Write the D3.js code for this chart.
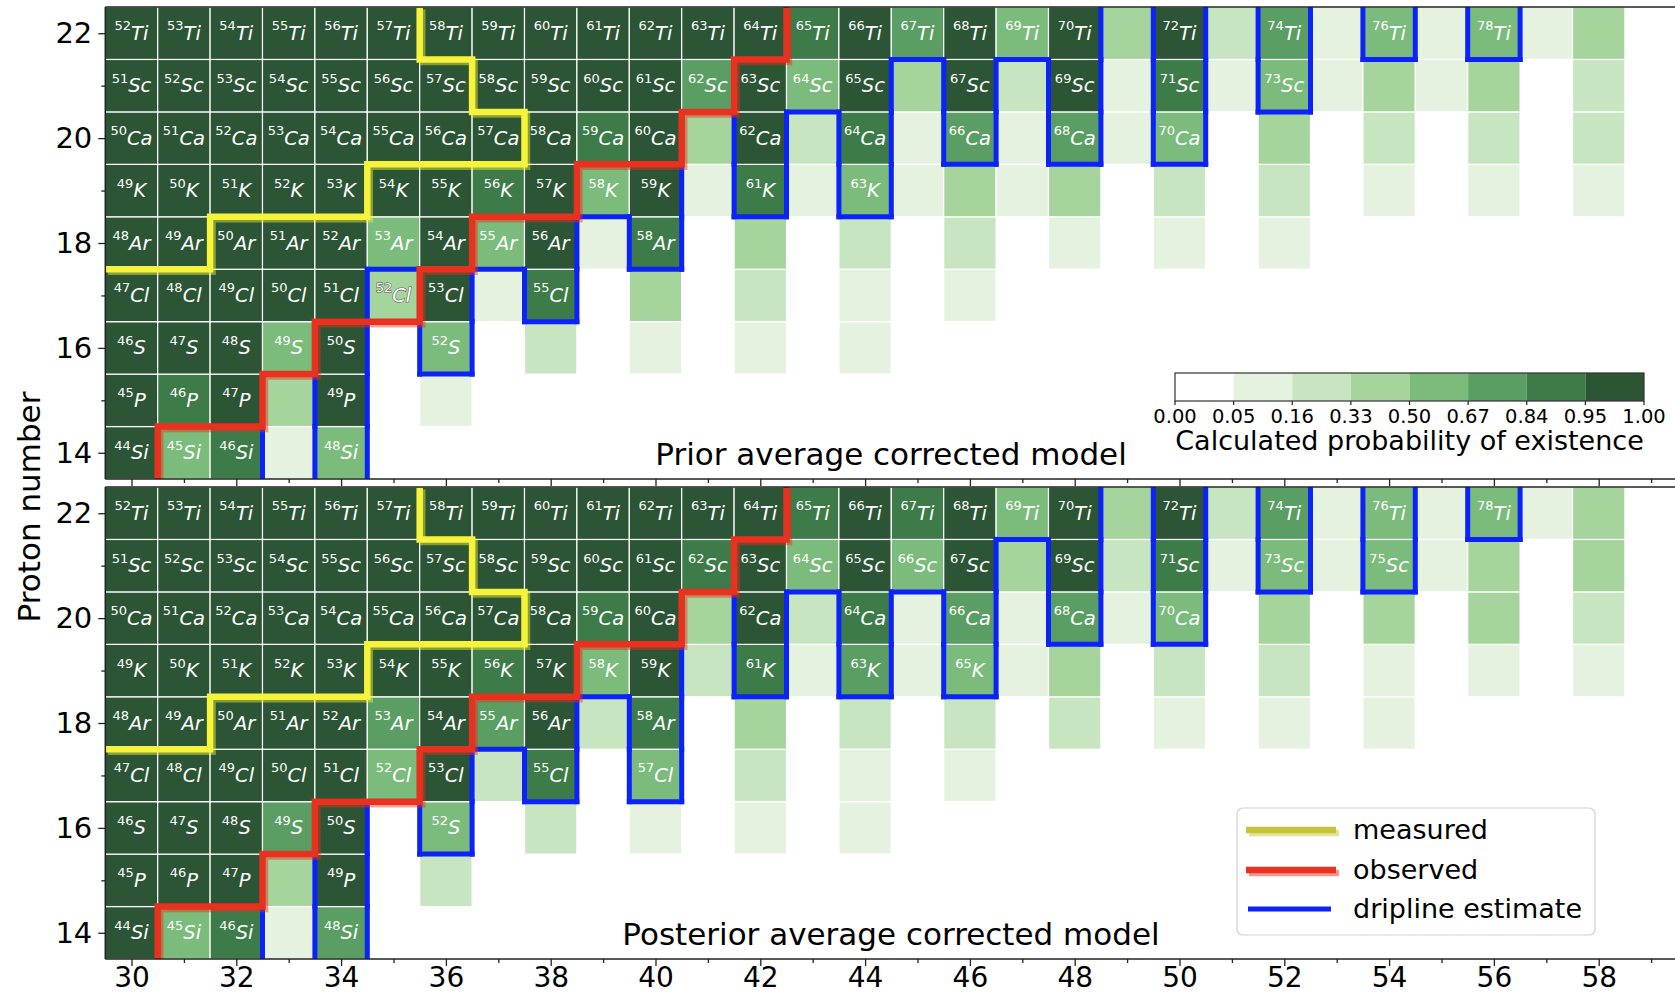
<!DOCTYPE html>
<html>
<head>
<meta charset="utf-8">
<script src="https://cdn.jsdelivr.net/npm/d3@7"></script>
<style>
  body { margin: 0; background: #ffffff; }
  text { font-family: "DejaVu Sans", "Liberation Sans", sans-serif; }
</style>
</head>
<body>
<svg id="chart" width="1675" height="994"></svg>
<script>
// ---------------- DATA ----------------
const neutronNumbers = [30,31,32,33,34,35,36,37,38,39,40,41,42,43,44,45,46,47,48,49,50,51,52,53,54,55,56,57,58];
const protonNumbers = [14,15,16,17,18,19,20,21,22];
const elementSymbols = ["Si","P","S","Cl","Ar","K","Ca","Sc","Ti"];
const xMajorTicks = [30,32,34,36,38,40,42,44,46,48,50,52,54,56,58];
const xMinorTicks = [31,33,35,37,39,41,43,45,47,49,51,53,55,57,59];
const yMajorTicks = [14,16,18,20,22];
const yMinorTicks = [15,17,19,21];
const binEdges = [0.00,0.05,0.16,0.33,0.50,0.67,0.84,0.95,1.00];
const binTickLabels = ["0.00","0.05","0.16","0.33","0.50","0.67","0.84","0.95","1.00"];
const binColors = ["#ffffff","#e5f2e0","#c8e5c2","#a6d49d","#7bbb7b","#5a9e64","#3d7c49","#2b5535"];
const panelTitles = ["Prior average corrected model","Posterior average corrected model"];
const colorbarLabel = "Calculated probability of existence";
const legendLabels = ["measured","observed","dripline estimate"];
// last measured / observed neutron number for each proton number (Z = 14..22)
const measuredLimit = [null,null,null,null,31,34,37,36,35];
const observedLimit = [30,32,33,35,36,38,40,41,42];
const driplineThreshold = 0.5;

// probability of existence, rows Z = 14..22, columns N = 30..58 (null = not computed)
const _ = null;
const priorProbability = [
  [.99,.58,.90,.10,.58,_,_,_,_,_,_,_,_,_,_,_,_,_,_,_,_,_,_,_,_,_,_,_,_],
  [.99,.90,.99,.42,.99,_,.10,_,_,_,_,_,_,_,_,_,_,_,_,_,_,_,_,_,_,_,_,_,_],
  [.99,.99,.99,.58,.99,_,.58,_,.25,_,.10,_,.10,_,.10,_,_,_,_,_,_,_,_,_,_,_,_,_,_],
  [.99,.99,.99,.99,.99,.42,.99,.10,.90,_,.42,_,.25,_,.10,_,.10,_,_,_,_,_,_,_,_,_,_,_,_],
  [.99,.99,.99,.99,.99,.58,.99,.58,.99,.10,.90,_,.42,_,.25,_,.25,_,.10,_,.10,_,.10,_,_,_,_,_,_],
  [.99,.99,.99,.99,.99,.99,.99,.90,.99,.58,.99,.10,.90,.10,.58,.10,.42,.10,.42,_,.25,_,.25,_,.10,_,.10,_,.10],
  [.99,.99,.99,.99,.99,.99,.99,.99,.99,.90,.99,.42,.99,.25,.90,.10,.75,.10,.75,.10,.58,_,.42,_,.25,_,.25,_,.25],
  [.99,.99,.99,.99,.99,.99,.99,.99,.99,.99,.99,.75,.99,.58,.99,.42,.99,.25,.99,.10,.90,.10,.58,.10,.42,.10,.42,_,.25],
  [.99,.99,.99,.99,.99,.99,.99,.99,.99,.99,.99,.99,.99,.90,.99,.75,.99,.58,.99,.42,.99,.25,.75,.10,.58,.10,.58,.10,.42]
];
const posteriorProbability = [
  [.99,.58,.90,.10,.75,_,_,_,_,_,_,_,_,_,_,_,_,_,_,_,_,_,_,_,_,_,_,_,_],
  [.99,.99,.99,.42,.99,_,.25,_,_,_,_,_,_,_,_,_,_,_,_,_,_,_,_,_,_,_,_,_,_],
  [.99,.99,.99,.75,.99,_,.58,_,.25,_,.10,_,.10,_,.10,_,_,_,_,_,_,_,_,_,_,_,_,_,_],
  [.99,.99,.99,.99,.99,.58,.99,.25,.90,_,.58,_,.25,_,.10,_,.10,_,_,_,_,_,_,_,_,_,_,_,_],
  [.99,.99,.99,.99,.99,.75,.99,.75,.99,.25,.90,_,.42,_,.25,_,.25,_,.25,_,.10,_,.10,_,.10,_,_,_,_],
  [.99,.99,.99,.99,.99,.99,.99,.90,.99,.58,.99,.25,.90,.10,.75,.10,.58,.10,.42,_,.25,_,.25,_,.10,_,.10,_,.10],
  [.99,.99,.99,.99,.99,.99,.99,.99,.99,.90,.99,.42,.99,.25,.90,.10,.75,.10,.75,.10,.58,_,.42,_,.42,_,.42,_,.25],
  [.99,.99,.99,.99,.99,.99,.99,.99,.99,.99,.99,.90,.99,.58,.99,.58,.99,.42,.99,.25,.90,.10,.58,.10,.58,.10,.42,_,.42],
  [.99,.99,.99,.99,.99,.99,.99,.99,.99,.99,.99,.99,.99,.90,.99,.90,.99,.58,.99,.42,.99,.25,.75,.10,.58,.10,.58,.10,.42]
];
const panelData = [priorProbability, posteriorProbability];

// ---------------- LAYOUT ----------------
const svg = d3.select("#chart");
svg.append("rect").attr("width",1675).attr("height",994).attr("fill","#fff");

const plotLeft = 105.3, plotRight = 1677.3;
const panelTops = [7, 487], panelBottoms = [479, 959];
const x = d3.scaleLinear().domain([29.5, 59.5]).range([plotLeft, plotRight]);
const color = d3.scaleThreshold().domain(binEdges.slice(1, -1)).range(binColors);

const yellowLine = "#f6f33a", redLine = "#e8311f", blueLine = "#0b22fb";

function stairPoints(limits) {
  const pts = [];
  let first = limits.findIndex(v => v !== null);
  if (first > 0) pts.push([29.5, protonNumbers[first] - 0.5]);
  for (let i = first; i < limits.length; i++) {
    pts.push([limits[i] + 0.5, protonNumbers[i] - 0.5]);
    pts.push([limits[i] + 0.5, protonNumbers[i] + 0.5]);
  }
  return pts;
}

panelData.forEach((prob, pi) => {
  const y = d3.scaleLinear().domain([13.5, 22.5]).range([panelBottoms[pi], panelTops[pi]]);
  const g = svg.append("g");
  const clipId = "clip" + pi;
  svg.append("clipPath").attr("id", clipId).append("rect")
    .attr("x", plotLeft).attr("y", panelTops[pi])
    .attr("width", 1675 - plotLeft).attr("height", panelBottoms[pi] - panelTops[pi]);
  const inner = g.append("g").attr("clip-path", `url(#${clipId})`);

  // cells
  const cells = [];
  prob.forEach((row, zi) => row.forEach((p, ni) => {
    if (p !== null) cells.push({N: neutronNumbers[ni], Z: protonNumbers[zi], zi, p});
  }));
  inner.selectAll("rect.cell").data(cells).join("rect").attr("class","cell")
    .attr("x", d => x(d.N - 0.5)).attr("y", d => y(d.Z + 0.5))
    .attr("width", d => x(d.N + 0.5) - x(d.N - 0.5))
    .attr("height", d => y(d.Z - 0.5) - y(d.Z + 0.5))
    .attr("fill", d => color(d.p)).attr("stroke", "#ffffff").attr("stroke-width", 1.2);

  // labels
  const labelled = cells.filter(d => d.p >= driplineThreshold || d.N <= observedLimit[d.zi]);
  const lab = inner.selectAll("text.lab").data(labelled).join("text").attr("class","lab")
    .attr("x", d => x(d.N)).attr("y", d => y(d.Z) + 6.5)
    .attr("text-anchor", "middle").attr("fill", "#ffffff")
    .attr("stroke", d => d.p < driplineThreshold ? "#555" : null)
    .attr("stroke-width", d => d.p < driplineThreshold ? 1.1 : null)
    .attr("paint-order", "stroke");
  lab.append("tspan").attr("font-size", 13).attr("dy", -9.5).text(d => d.N + d.Z);
  lab.append("tspan").attr("font-size", 19.5).attr("font-style", "italic").attr("dy", 9.5)
    .text(d => elementSymbols[d.zi]);

  // dripline contour (boundary between p >= 0.5 and p < 0.5)
  const inside = (zi, ni) => (prob[zi][ni] ?? 0) >= driplineThreshold;
  const segs = [];
  prob.forEach((row, zi) => row.forEach((p, ni) => {
    const N = neutronNumbers[ni], Z = protonNumbers[zi];
    if (ni + 1 < row.length && inside(zi, ni) !== inside(zi, ni + 1))
      segs.push([[N + 0.5, Z - 0.5], [N + 0.5, Z + 0.5]]);
    if (zi + 1 < prob.length && inside(zi, ni) !== inside(zi + 1, ni))
      segs.push([[N - 0.5, Z + 0.5], [N + 0.5, Z + 0.5]]);
  }));
  inner.selectAll("line.drip").data(segs).join("line").attr("class","drip")
    .attr("x1", d => x(d[0][0])).attr("y1", d => y(d[0][1]))
    .attr("x2", d => x(d[1][0])).attr("y2", d => y(d[1][1]))
    .attr("stroke", blueLine).attr("stroke-width", 5).attr("stroke-linecap", "square");

  // measured and observed staircases with shadow
  const line = d3.line().x(d => x(d[0])).y(d => y(d[1]));
  [[measuredLimit, yellowLine], [observedLimit, redLine]].forEach(([lim, col]) => {
    const pts = stairPoints(lim);
    inner.append("path").attr("d", line(pts)).attr("fill","none")
      .attr("stroke", col).attr("stroke-opacity", 0.45).attr("stroke-width", 6.5)
      .attr("transform", "translate(2.5,2.5)");
    inner.append("path").attr("d", line(pts)).attr("fill","none")
      .attr("stroke", col).attr("stroke-width", 6.5).attr("stroke-linejoin","miter");
  });

  // spines
  g.append("line").attr("x1", plotLeft).attr("x2", plotLeft).attr("y1", panelTops[pi]).attr("y2", panelBottoms[pi]).attr("stroke","#222").attr("stroke-width",1.5);
  g.append("line").attr("x1", plotLeft).attr("x2", 1675).attr("y1", panelTops[pi]).attr("y2", panelTops[pi]).attr("stroke","#222").attr("stroke-width",1.5);
  g.append("line").attr("x1", plotLeft).attr("x2", 1675).attr("y1", panelBottoms[pi]).attr("y2", panelBottoms[pi]).attr("stroke","#222").attr("stroke-width",1.5);

  // axes
  const styleAxis = (fs) => sel => {
    sel.select(".domain").remove();
    sel.selectAll("line").attr("stroke","#222").attr("stroke-width",1.3);
    sel.selectAll("text").attr("font-size",fs).attr("fill","#000").attr("font-family","DejaVu Sans, sans-serif");
  };
  g.append("g").attr("transform", `translate(${plotLeft},0)`)
    .call(d3.axisLeft(y).tickValues(yMajorTicks).tickSize(7).tickPadding(6).tickFormat(d3.format("d"))).call(styleAxis(29));
  g.append("g").attr("transform", `translate(${plotLeft},0)`)
    .call(d3.axisLeft(y).tickValues(yMinorTicks).tickSize(4).tickFormat("")).call(styleAxis(29));
  g.append("g").attr("transform", `translate(0,${panelBottoms[pi]})`)
    .call(d3.axisBottom(x).tickValues(xMajorTicks).tickSize(7).tickPadding(1)
      .tickFormat(pi === 1 ? d3.format("d") : "")).call(styleAxis(28));
  g.append("g").attr("transform", `translate(0,${panelBottoms[pi]})`)
    .call(d3.axisBottom(x).tickValues(xMinorTicks).tickSize(4).tickFormat("")).call(styleAxis(28));

  // panel title
  g.append("text").attr("x", 891).attr("y", panelBottoms[pi] - 14)
    .attr("text-anchor","middle").attr("font-size",31).attr("fill","#000").text(panelTitles[pi]);
});

// y label
svg.append("text").attr("transform","translate(39.5,507) rotate(-90)")
  .attr("text-anchor","middle").attr("font-size",31).attr("fill","#000").text("Proton number");

// ---------------- COLORBAR ----------------
const cb = svg.append("g");
const cbX = d3.scaleLinear().domain([0, binEdges.length - 1]).range([1175, 1644]);
const cbTop = 373, cbBottom = 401;
cb.selectAll("rect.bin").data(binColors).join("rect").attr("class","bin")
  .attr("x", (d,i) => cbX(i)).attr("y", cbTop)
  .attr("width", (d,i) => cbX(i+1) - cbX(i)).attr("height", cbBottom - cbTop)
  .attr("fill", d => d);
cb.append("rect").attr("x", cbX(0)).attr("y", cbTop).attr("width", cbX(8) - cbX(0))
  .attr("height", cbBottom - cbTop).attr("fill","none").attr("stroke","#333").attr("stroke-width",1.2);
cb.selectAll("line.tk").data(binTickLabels).join("line").attr("class","tk")
  .attr("x1", (d,i) => cbX(i)).attr("x2", (d,i) => cbX(i))
  .attr("y1", cbBottom).attr("y2", cbBottom + 4).attr("stroke","#222").attr("stroke-width",1.2);
cb.selectAll("text.tl").data(binTickLabels).join("text").attr("class","tl")
  .attr("x", (d,i) => cbX(i)).attr("y", 423).attr("text-anchor","middle")
  .attr("font-size",19.5).attr("fill","#000").text(d => d);
cb.append("text").attr("x", (cbX(0)+cbX(8))/2).attr("y", 450).attr("text-anchor","middle")
  .attr("font-size",27).attr("fill","#000").text(colorbarLabel);

// ---------------- LEGEND ----------------
const lg = svg.append("g");
lg.append("rect").attr("x",1237).attr("y",808).attr("width",358).attr("height",127)
  .attr("rx",6).attr("fill","#fff").attr("fill-opacity",0.85).attr("stroke","#d2d2d2").attr("stroke-width",1.2);
const legendColors = ["#c8c43a", redLine, blueLine];
const legendRows = [830, 870, 909];
legendLabels.forEach((lbl, i) => {
  if (i < 2) {
    lg.append("line").attr("x1",1246).attr("x2",1336).attr("y1",legendRows[i]).attr("y2",legendRows[i])
      .attr("stroke",legendColors[i]).attr("stroke-opacity",0.5).attr("stroke-width",6.5)
      .attr("transform","translate(3,3)");
    lg.append("line").attr("x1",1246).attr("x2",1336).attr("y1",legendRows[i]).attr("y2",legendRows[i])
      .attr("stroke",legendColors[i]).attr("stroke-width",6.5);
  } else {
    lg.append("line").attr("x1",1248).attr("x2",1331).attr("y1",legendRows[i]).attr("y2",legendRows[i])
      .attr("stroke",legendColors[i]).attr("stroke-width",5);
  }
  lg.append("text").attr("x",1353).attr("y",legendRows[i] + 9).attr("font-size",27).attr("fill","#000").text(lbl);
});
</script>
</body>
</html>
